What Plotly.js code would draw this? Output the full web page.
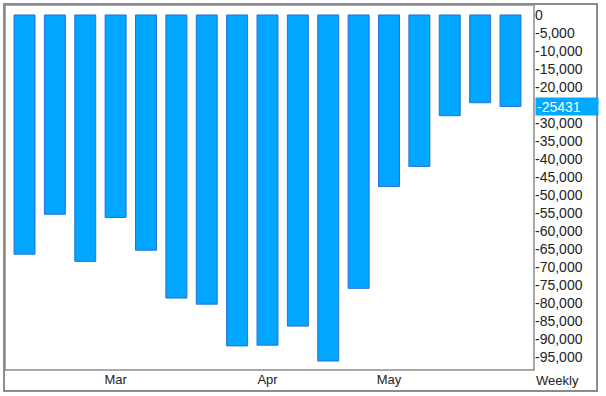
<!DOCTYPE html>
<html>
<head>
<meta charset="utf-8">
<script src="https://cdn.plot.ly/plotly-3.0.1.min.js"></script>
<style>
html,body{margin:0;padding:0;background:#fff;}
#chart{width:606px;height:396px;}
</style>
</head>
<body>
<div id="chart"></div>
<script>
// Weekly periods
const weeks = ["2020-02-09","2020-02-16","2020-02-23","2020-03-01","2020-03-08","2020-03-15","2020-03-22","2020-03-29",
               "2020-04-05","2020-04-12","2020-04-19","2020-04-26","2020-05-03","2020-05-10","2020-05-17","2020-05-24","2020-05-31"];
const values = [-66500,-55400,-68500,-56300,-65400,-78700,-80400,-92000,-91800,-86500,-96200,-76000,-47700,-42100,-28000,-24400,-25431];
const monthTickWeeks = ["2020-03-01","2020-04-05","2020-05-03"];
const monthTickLabels = ["Mar","Apr","May"];
const yTickValues = [0,-5000,-10000,-15000,-20000,-25000,-30000,-35000,-40000,-45000,-50000,-55000,-60000,-65000,-70000,-75000,-80000,-85000,-90000,-95000];
const periodLabel = "Weekly";

function fmt(v){
  const s = Math.abs(v).toString().replace(/\B(?=(\d{3})+(?!\d))/g, ",");
  return (v < 0 ? "-" : "") + s;
}
const lastVal = values[values.length-1];
// the tick hidden behind the last-value marker
const shownTicks = yTickValues.filter(v => Math.abs(v - lastVal) > 2500);

const FONT = "Arial, 'Liberation Sans', sans-serif";

const trace = {
  type: "bar",
  x: weeks,
  y: values,
  marker: {color: "#00A6FF", line: {color: "#2472D6", width: 1}},
  hoverinfo: "none"
};

const layout = {
  width: 606, height: 396,
  margin: {l: 5, r: 72, t: 5, b: 26, pad: 0},
  paper_bgcolor: "#fff", plot_bgcolor: "#fff",
  showlegend: false,
  bargap: 0.31,
  font: {family: FONT, size: 13, color: "#222"},
  xaxis: {
    type: "category",
    range: [-0.642, 16.774],
    tickmode: "array", tickvals: monthTickWeeks, ticktext: monthTickLabels,
    ticks: "", showgrid: false, zeroline: false, showline: false,
    tickfont: {family: FONT, size: 13, color: "#222"}
  },
  yaxis: {
    side: "right",
    range: [-98700, 2772],
    tickmode: "array", tickvals: shownTicks, ticktext: shownTicks.map(fmt),
    ticks: "", showgrid: false, zeroline: false, showline: false,
    tickfont: {family: FONT, size: 14, color: "#222"}
  },
  shapes: [
    {type: "rect", xref: "paper", yref: "paper", x0: 0, x1: 1, y0: 0, y1: 1,
     line: {color: "#8c8c8c", width: 1.5}, fillcolor: "rgba(0,0,0,0)", layer: "above"},
    {type: "rect", xref: "paper", yref: "paper", x0: -0.0019, x1: 1.1191, y0: -0.0575, y1: 1.0027,
     line: {color: "#8c8c8c", width: 2}, fillcolor: "rgba(0,0,0,0)", layer: "above"}
  ],
  annotations: [
    {xref: "paper", yref: "y", x: 1.001, y: lastVal, xanchor: "left", yanchor: "middle",
     text: String(lastVal), showarrow: false, bgcolor: "#00A8FF", borderpad: 1,
     width: 60, height: 15, align: "left",
     font: {family: FONT, size: 14, color: "#fff"}},
    {xref: "paper", yref: "paper", x: 1.0, y: -0.029, xanchor: "left", yanchor: "middle",
     text: periodLabel, showarrow: false,
     font: {family: FONT, size: 13, color: "#222"}}
  ]
};

Plotly.newPlot("chart", [trace], layout, {staticPlot: true, displayModeBar: false});
</script>
</body>
</html>
